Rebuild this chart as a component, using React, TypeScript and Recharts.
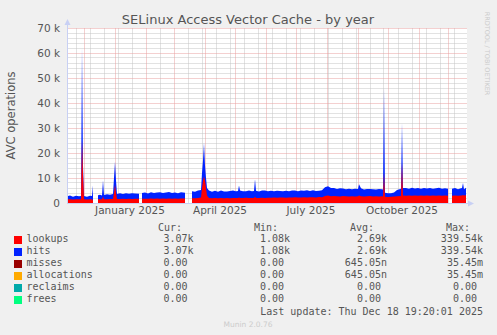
import { ComposedChart, Area, XAxis, YAxis, CartesianGrid, ReferenceLine } from "recharts";

// day index from Nov 14 2024 (0) to Dec 18 2025 (399), values in thousands
const days = [
  0, 3, 6, 9, 12, 14, 15, 16, 17, 20, 23, 25, 26, 28,
  31, 33, 35, 36, 37, 40, 43, 46, 47, 48, 49, 50, 53, 56, 59, 62, 65, 68, 72, 73,
  75, 78, 81, 84, 87, 90, 93, 96, 99, 102, 105, 108, 111, 114, 118, 120,
  125, 128, 131, 134, 135, 136, 137, 138, 139, 140, 142, 145, 148, 151, 154, 157, 160, 163, 166, 169,
  171, 172, 173, 176, 179, 182, 185, 187, 188, 189, 192, 195, 198, 201, 204, 207, 210, 213, 216, 219,
  222, 225, 228, 231, 234, 237, 240, 243, 246, 249, 252, 255, 258, 261, 264, 267, 270, 273, 276, 279,
  282, 285, 288, 291, 292, 294, 297, 300, 303, 306, 309, 312, 315, 316, 317, 318, 321, 324, 327, 330,
  334, 335, 336, 339, 342, 345, 348, 351, 354, 357, 360, 363, 366, 369, 372, 375, 378, 381, 383,
  385, 388, 391, 394, 395, 396, 397, 399,
];

const lookupsK = [
  1.5, 1.5, 1.4, 1.5, 1.5, 1.5, 25, 12, 1.5, 1.4, 1.5, 1.5, 1.0, null,
  1.5, 1.5, 1.5, 2.5, 1.5, 1.5, 1.6, 1.6, 4.0, 7.2, 4.0, 1.6, 1.6, 1.7, 1.6, 1.7, 1.6, 1.7, 1.7, null,
  1.7, 1.7, 1.7, 1.8, 1.7, 1.8, 1.7, 1.8, 1.7, 1.8, 1.7, 1.8, 1.7, 1.8, 1.8, null,
  1.9, 1.9, 2.0, 2.2, 6.0, 9.0, 10.5, 9.0, 6.0, 3.0, 2.0, 1.9, 2.0, 1.9, 2.0, 1.9, 2.0, 1.9, 2.0, 2.0,
  2.0, 2.2, 2.0, 2.0, 2.1, 2.0, 2.0, 2.0, 2.5, 2.0, 2.0, 2.1, 2.0, 2.1, 2.1, 2.2, 2.1, 2.2, 2.2, 2.1,
  2.2, 2.2, 2.3, 2.2, 2.2, 2.3, 2.2, 2.3, 2.3, 2.2, 2.4, 2.3, 2.8, 3.0, 2.7, 2.8, 2.7, 2.6, 2.8, 2.7,
  2.6, 2.7, 2.6, 2.7, 3.0, 2.7, 2.6, 2.7, 2.8, 2.6, 2.7, 2.6, 2.7, 2.6, 12, 2.5, 2.4, 2.5, 2.6, 2.7,
  2.8, 16, 3.0, 2.9, 3.0, 2.9, 3.0, 2.9, 3.0, 2.9, 3.0, 2.9, 3.0, 2.9, 3.0, 2.9, 3.0, 2.9, null,
  2.9, 3.0, 2.9, 3.0, 3.0, 3.2, 3.0, 3.07,
];

const hitsK = [
  1.2, 1.5, 1.1, 1.4, 1.2, 1.3, 37, 3.0, 1.3, 1.1, 1.4, 1.3, 6.0, null,
  1.6, 1.8, 1.5, 6.5, 1.7, 2.0, 1.7, 2.0, 6.0, 9.3, 5.0, 2.0, 2.3, 1.9, 2.3, 2.0, 2.3, 2.1, 2.0, null,
  2.3, 2.5, 2.1, 2.5, 2.3, 2.4, 2.6, 2.2, 2.5, 2.6, 2.3, 2.4, 2.2, 2.5, 2.3, null,
  2.8, 2.6, 3.0, 3.0, 6.0, 8.0, 13.5, 6.0, 4.0, 3.0, 3.0, 2.6, 2.9, 2.6, 3.0, 2.7, 2.6, 2.9, 3.0, 2.7,
  2.8, 4.8, 3.0, 2.7, 2.6, 3.0, 2.7, 2.8, 7.0, 2.9, 2.6, 2.9, 3.0, 2.6, 2.8, 2.5, 2.8, 2.6, 2.5, 2.8,
  2.5, 2.8, 2.7, 2.5, 2.8, 2.6, 2.9, 2.5, 2.8, 2.6, 2.5, 2.8, 3.5, 3.7, 3.3, 3.2, 2.9, 3.3, 3.0, 2.8,
  3.1, 2.8, 3.1, 2.9, 4.5, 3.2, 2.8, 2.9, 2.8, 2.9, 2.7, 3.0, 2.8, 2.8, 34, 1.6, 1.5, 1.4, 1.6, 2.5,
  2.9, 16, 3.0, 3.1, 2.7, 3.2, 2.8, 3.1, 2.7, 3.1, 2.8, 3.1, 2.7, 3.0, 3.1, 2.8, 2.9, 2.8, null,
  2.8, 3.0, 2.6, 2.9, 3.0, 4.8, 2.5, 3.07,
];

const monthStarts = [17, 48, 79, 107, 138, 168, 199, 229, 260, 291, 321, 352, 382];
const minorDays = [
  9, 23, 37, 51, 65, 93, 121, 135, 149, 163, 177, 191, 205, 219, 233, 247, 261, 275,
  289, 303, 317, 331, 345, 359, 373, 387,
];
const labelDays = [63, 153, 244, 335];
const labelNames = ["January 2025", "April 2025", "July 2025", "October 2025"];
const majorK = [0, 10, 20, 30, 40, 50, 60, 70];
const minorK = [
  2, 4, 6, 8, 12, 14, 16, 18, 22, 24, 26, 28, 32, 34, 36, 38, 42, 44, 46, 48,
  52, 54, 56, 58, 62, 64, 66, 68,
];

const seriesNames = ["lookups", "hits", "misses", "allocations", "reclaims", "frees"];
const seriesColors = ["#ff0000", "#0022ff", "#990000", "#ffaa00", "#00aaaa", "#00ff80"];
const curVals = ["3.07k", "3.07k", "0.00 ", "0.00 ", "0.00 ", "0.00 "];
const minVals = ["1.08k", "1.08k", "0.00 ", "0.00 ", "0.00 ", "0.00 "];
const avgVals = ["2.69k", "2.69k", "645.05n", "645.05n", "0.00 ", "0.00 "];
const maxVals = ["339.54k", "339.54k", "35.45m", "35.45m", "0.00 ", "0.00 "];

const data = days.map((d, i) => ({
  day: d,
  lookups: lookupsK[i],
  hitsTop: lookupsK[i] == null ? null : (lookupsK[i] as number) + (hitsK[i] as number),
}));

const mono = "'DejaVu Sans Mono', monospace";
const sans = "'DejaVu Sans', sans-serif";
const textColor = "#555555";
const minorColor = "#c4c4c4";
const majorColor = "#e8a0a0";

const colRight = [193.5, 290, 387, 483];
const headRight = [182, 278, 374, 470];
const headers = ["Cur:", "Min:", "Avg:", "Max:"];

// crisp 1px dotted grid line at the position the scale gives
const gridLine = (color: string) => (p: any) => (
  <line
    x1={Math.floor(p.x1) + 0.5}
    y1={Math.floor(p.y1) + 0.5}
    x2={Math.floor(p.x2) + 0.5}
    y2={Math.floor(p.y2) + 0.5}
    stroke={color}
    strokeWidth={1}
    strokeDasharray="1 1"
  />
);

export default function App() {
  const rows = [curVals, minVals, avgVals, maxVals];
  return (
    <div
      style={{
        position: "fixed",
        left: 0,
        top: 0,
        width: 497,
        height: 335,
        background: "#f0f0f0",
        overflow: "hidden",
      }}
    >
      <ComposedChart
        width={497}
        height={335}
        data={data}
        margin={{ top: 28, right: 30, left: 0, bottom: 0 }}
      >
        <XAxis
          xAxisId="x"
          type="number"
          dataKey="day"
          domain={[0, 400]}
          ticks={labelDays}
          interval={0}
          tickFormatter={(v: number) => labelNames[labelDays.indexOf(v)] ?? ""}
          height={132}
          tickLine={false}
          axisLine={false}
          tickSize={2}
          tickMargin={2}
          allowDataOverflow
          tick={{ fill: textColor, fontSize: 10.5, fontFamily: sans }}
        />
        <YAxis
          yAxisId="y"
          type="number"
          domain={[0, 70]}
          ticks={majorK}
          interval={0}
          width={67}
          tickFormatter={(v: number) => (v === 0 ? "0" : `${v} k`)}
          tickLine={false}
          axisLine={false}
          tickSize={5}
          tickMargin={2}
          allowDataOverflow
          tick={{ fill: textColor, fontSize: 10.5, fontFamily: sans }}
          label={{
            value: "AVC operations",
            angle: -90,
            position: "insideLeft",
            offset: 11,
            style: { fill: textColor, fontSize: 11.5, fontFamily: sans, textAnchor: "middle" },
          }}
        />
        <CartesianGrid xAxisId="x" yAxisId="y" horizontal={false} vertical={false} fill="#ffffff" />
        {minorK.map((v) => (
          <ReferenceLine key={"hm" + v} xAxisId="x" yAxisId="y" y={v} zIndex={0} shape={gridLine(minorColor)} />
        ))}
        {minorDays.map((d) => (
          <ReferenceLine key={"vm" + d} xAxisId="x" yAxisId="y" x={d} zIndex={0} shape={gridLine(minorColor)} />
        ))}
        {majorK.map((v) => (
          <ReferenceLine key={"hM" + v} xAxisId="x" yAxisId="y" y={v} zIndex={0} shape={gridLine(majorColor)} />
        ))}
        {monthStarts.map((d) => (
          <ReferenceLine key={"vM" + d} xAxisId="x" yAxisId="y" x={d} zIndex={0} shape={gridLine(majorColor)} />
        ))}
        <Area
          xAxisId="x"
          yAxisId="y"
          type="linear"
          dataKey="hitsTop"
          stroke="none"
          fill="#0022ff"
          fillOpacity={1}
          isAnimationActive={false}
          connectNulls={false}
          baseValue={0}
        />
        <Area
          xAxisId="x"
          yAxisId="y"
          type="linear"
          dataKey="lookups"
          stroke="none"
          fill="#ff0000"
          fillOpacity={1}
          isAnimationActive={false}
          connectNulls={false}
          baseValue={0}
        />
      </ComposedChart>

      <svg
        width={497}
        height={335}
        style={{ position: "absolute", left: 0, top: 0, pointerEvents: "none" }}
      >
        <line x1={67.5} y1={203} x2={67.5} y2={24} stroke="#c8d0f4" strokeWidth={1} />
        <polygon points="64.5,25 70.5,25 67.5,19" fill="#c8d0f4" />
        <line x1={67} y1={203.5} x2={469} y2={203.5} stroke="#c8d0f4" strokeWidth={1} />
        <polygon points="468,200.5 468,206.5 474,203.5" fill="#c8d0f4" />
        <text
          x={248}
          y={23.5}
          textAnchor="middle"
          fill={textColor}
          fontSize={13}
          fontFamily={sans}
        >
          SELinux Access Vector Cache - by year
        </text>
        <text
          x={0}
          y={0}
          transform="translate(485,53.5) rotate(90)"
          textAnchor="middle"
          fill="#cccccc"
          fontSize={6.5}
          fontFamily={sans}
        >
          RRDTOOL / TOBI OETIKER
        </text>
        <text x={248} y={326.5} textAnchor="middle" fill="#cccccc" fontSize={7.5} fontFamily={sans}>
          Munin 2.0.76
        </text>
      </svg>

      {headers.map((h, c) => (
        <div
          key={h}
          style={{
            position: "absolute",
            right: 497 - headRight[c],
            top: 221.5,
            fontFamily: mono,
            fontSize: 10,
            lineHeight: "12px",
            color: textColor,
            whiteSpace: "pre",
          }}
        >
          {h}
        </div>
      ))}
      {seriesNames.map((name, r) => (
        <div key={name}>
          <div
            style={{
              position: "absolute",
              left: 14,
              top: 236 + r * 12,
              width: 6,
              height: 6,
              background: seriesColors[r],
              border: "0.5px solid " + seriesColors[r],
            }}
          />
          <div
            style={{
              position: "absolute",
              left: 26.5,
              top: 233 + r * 12,
              fontFamily: mono,
              fontSize: 10,
              lineHeight: "12px",
              color: textColor,
              whiteSpace: "pre",
            }}
          >
            {name}
          </div>
          {rows.map((col, c) => (
            <div
              key={c}
              style={{
                position: "absolute",
                right: 497 - colRight[c],
                top: 233 + r * 12,
                fontFamily: mono,
                fontSize: 10,
                lineHeight: "12px",
                color: textColor,
                whiteSpace: "pre",
              }}
            >
              {col[r]}
            </div>
          ))}
        </div>
      ))}
      <div
        style={{
          position: "absolute",
          right: 497 - 483,
          top: 305.5,
          fontFamily: mono,
          fontSize: 10,
          lineHeight: "12px",
          color: textColor,
          whiteSpace: "pre",
        }}
      >
        Last update: Thu Dec 18 19:20:01 2025
      </div>
    </div>
  );
}
